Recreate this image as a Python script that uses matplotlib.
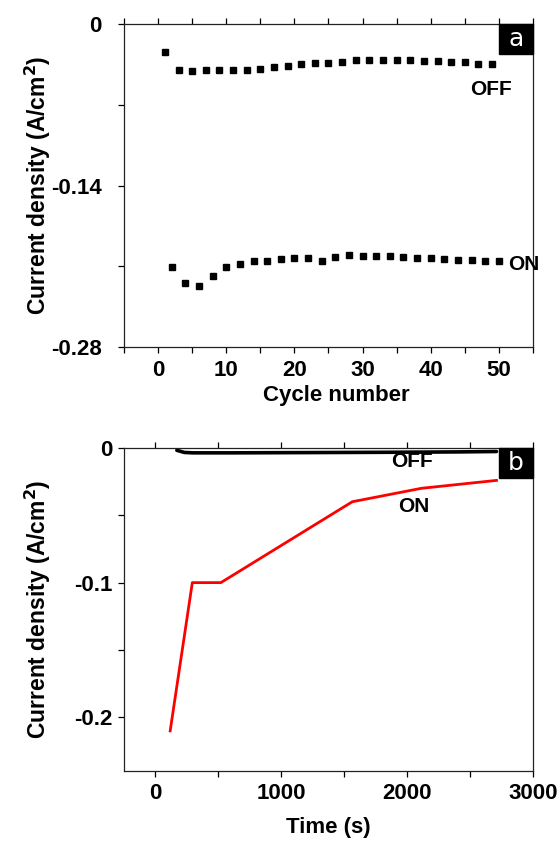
import matplotlib
matplotlib.use("agg")
import matplotlib.pyplot as plt
from matplotlib.patches import Rectangle

plt.rcParams['font.family'] = ['Liberation Sans', 'DejaVu Sans']
plt.rcParams['font.weight'] = 'bold'

# panel a: cycling, current density at the end of each step
off_cycles = [1, 3, 5, 7, 9, 11, 13, 15, 17, 19, 21, 23, 25,
              27, 29, 31, 33, 35, 37, 39, 41, 43, 45, 47, 49]
off_current = [-0.0240, -0.0401, -0.0410, -0.0398, -0.0401, -0.0398, -0.0396,
               -0.0390, -0.0372, -0.0361, -0.0349, -0.0338, -0.0335, -0.0329,
               -0.0312, -0.0309, -0.0312, -0.0312, -0.0312, -0.0320, -0.0320,
               -0.0326, -0.0332, -0.0344, -0.0344]
on_cycles = [2, 4, 6, 8, 10, 12, 14, 16, 18, 20, 22, 24, 26,
             28, 30, 32, 34, 36, 38, 40, 42, 44, 46, 48, 50]
on_current = [-0.2102, -0.2246, -0.2269, -0.2183, -0.2107, -0.2082, -0.2053,
              -0.2050, -0.2038, -0.2030, -0.2030, -0.2050, -0.2021, -0.2004,
              -0.2009, -0.2009, -0.2009, -0.2015, -0.2030, -0.2030, -0.2032,
              -0.2044, -0.2044, -0.2053, -0.2053]

# panel b: current density vs time
off_time = [170, 230, 300, 600, 1200, 1800, 2400, 2710]
off_density = [-0.0015, -0.0031, -0.0034, -0.0034, -0.0032, -0.0030, -0.0027, -0.0024]
on_time = [117, 293, 520, 1564, 2113, 2710]
on_density = [-0.2104, -0.100, -0.100, -0.0398, -0.0298, -0.0239]

a_yticks = [0, -0.07, -0.14, -0.21, -0.28]
a_yticklabels = ['0', '', '-0.14', '', '-0.28']
b_yticks = [0, -0.05, -0.1, -0.15, -0.2]
b_yticklabels = ['0', '', '-0.1', '', '-0.2']

ylab = 'Current density (A/cm$\\mathbf{^2}$)'


def style(ax):
    for s in ax.spines.values():
        s.set_linewidth(0.9)
        s.set_color('#222222')
    ax.tick_params(which='both', direction='out', length=4, width=0.9,
                   top=True, right=False, labelsize=16)
    for t in ax.get_xticklabels() + ax.get_yticklabels():
        t.set_fontweight('bold')


def tag(ax, letter):
    ax.add_patch(Rectangle((0.917, 0.907), 0.083, 0.093, transform=ax.transAxes,
                           color='black', clip_on=False, zorder=5))
    ax.text(0.958, 0.953, letter, transform=ax.transAxes, color='white',
            fontsize=18, fontweight='normal', family='DejaVu Sans',
            ha='center', va='center', zorder=6)


fig = plt.figure(figsize=(5.6, 8.42), dpi=100)

# --- a ---
ax1 = fig.add_axes([0.2214, 0.5875, 0.7304, 0.384])
ax1.plot(off_cycles, off_current, 's', color='black', ms=4, ls='none')
ax1.plot(on_cycles, on_current, 's', color='black', ms=4, ls='none')
ax1.set_xlim(-5, 55)
ax1.set_ylim(-0.28, 0)
ax1.set_xticks(range(-5, 56, 5))
ax1.set_xticklabels(['' if v % 10 or v < 0 else str(v) for v in range(-5, 56, 5)])
ax1.set_yticks(a_yticks)
ax1.set_yticklabels(a_yticklabels)
style(ax1)
ax1.tick_params(axis='y', pad=12)
ax1.tick_params(axis='x', pad=5)
ax1.set_xlabel('Cycle number', fontsize=16, fontweight='bold')
ax1.xaxis.set_label_coords(0.52, -0.115)
ax1.set_ylabel(ylab, fontsize=16.5, fontweight='bold')
ax1.yaxis.set_label_coords(-0.173, 0.5)
ax1.text(48.8, -0.0563, 'OFF', fontsize=15, fontweight='bold', ha='center', va='center')
ax1.text(51.4, -0.2087, 'ON', fontsize=15, fontweight='bold', ha='left', va='center',
         clip_on=False)
tag(ax1, 'a')

# --- b ---
ax2 = fig.add_axes([0.2214, 0.0847, 0.7304, 0.3829])
ax2.plot(off_time, off_density, color='black', lw=2.6, solid_capstyle='round')
ax2.plot(on_time, on_density, color='red', lw=2)
ax2.set_xlim(-250, 3000)
ax2.set_ylim(-0.24, 0)
ax2.set_xticks(range(0, 3001, 500))
ax2.set_xticklabels(['' if v % 1000 else str(v) for v in range(0, 3001, 500)])
ax2.set_yticks(b_yticks)
ax2.set_yticklabels(b_yticklabels)
style(ax2)
ax2.tick_params(axis='y', pad=4)
ax2.tick_params(axis='x', pad=5)
ax2.set_xlabel('Time (s)', fontsize=16, fontweight='bold')
ax2.xaxis.set_label_coords(0.5, -0.145)
ax2.set_ylabel(ylab, fontsize=16.5, fontweight='bold')
ax2.yaxis.set_label_coords(-0.173, 0.5)
ax2.text(2036, -0.0095, 'OFF', fontsize=15, fontweight='bold', ha='center', va='center')
ax2.text(2052, -0.043, 'ON', fontsize=15, fontweight='bold', ha='center', va='center')
tag(ax2, 'b')

fig.savefig('out.png', dpi=100)
plt.close(fig)
